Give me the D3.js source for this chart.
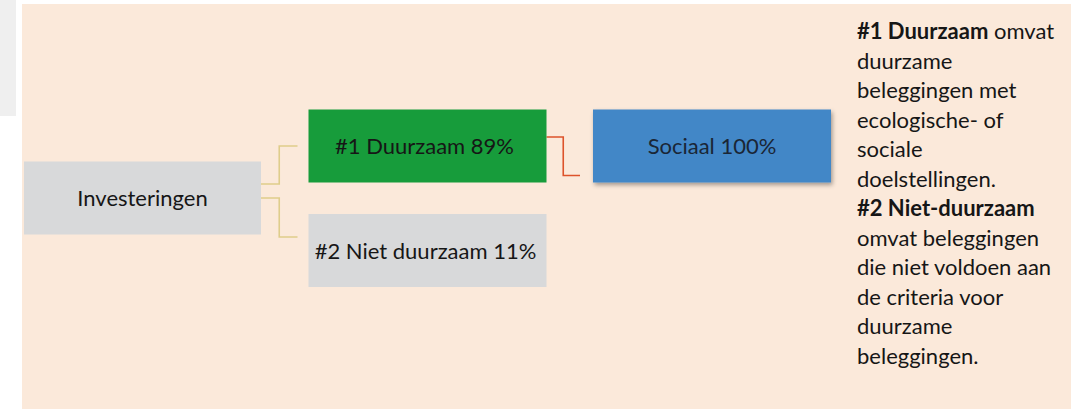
<!DOCTYPE html>
<html>
<head>
<meta charset="utf-8">
<script src="https://cdn.jsdelivr.net/npm/d3@7"></script>
<style>
  html, body { margin: 0; padding: 0; background: #ffffff; }
  svg { display: block; }
</style>
</head>
<body>
<svg id="chart" width="1071" height="409"></svg>
<script>
// ---- data ----
const nodeLabels = ["Investeringen", "#1 Duurzaam", "#2 Niet duurzaam", "Sociaal"];
const nodeShares = [null, 89, 11, 100];
const nodeLevels = [0, 1, 1, 2];
const nodeRows   = [0, -1, 1, -1];
const nodeParents = [null, 0, 0, 1];
const nodeKinds  = ["root", "sustainable", "other", "social"];

const noteLines = [
  [["#1 Duurzaam", true], [" omvat", false]],
  [["duurzame", false]],
  [["beleggingen met", false]],
  [["ecologische- of", false]],
  [["sociale", false]],
  [["doelstellingen.", false]],
  [["#2 Niet-duurzaam", true]],
  [["omvat beleggingen", false]],
  [["die niet voldoen aan", false]],
  [["de criteria voor", false]],
  [["duurzame", false]],
  [["beleggingen.", false]]
];

// ---- styling ----
const fillByKind = { root: "#d8d9da", sustainable: "#179c3b", other: "#d8d9da", social: "#4387c7" };
const FONT = "Lato, 'Open Sans', sans-serif";

const svg = d3.select("#chart");
const W = 1071, H = 409;

// backgrounds
svg.append("rect").attr("x", 0).attr("y", 0).attr("width", 16).attr("height", 116).attr("fill", "#efefef");
svg.append("rect").attr("x", 22).attr("y", 4).attr("width", W - 22).attr("height", H - 4).attr("fill", "#fbe9da");

// shadow filter
const defs = svg.append("defs");
const f = defs.append("filter").attr("id", "shadow").attr("x", "-10%").attr("y", "-20%").attr("width", "130%").attr("height", "150%");
f.append("feDropShadow").attr("dx", 1.5).attr("dy", 2.5).attr("stdDeviation", 2).attr("flood-color", "#000").attr("flood-opacity", 0.35);

// scales
const boxW = 238, boxH = 73;
const x = d3.scaleLinear().domain([0, 2]).range([24, 593]);
const y = d3.scaleLinear().domain([-1, 1]).range([146, 250]);

const nodes = nodeLabels.map((label, i) => ({
  label, share: nodeShares[i], level: nodeLevels[i], row: nodeRows[i],
  parent: nodeParents[i], kind: nodeKinds[i]
}));
nodes.forEach(n => {
  n.x0 = x(n.level);
  n.x1 = n.x0 + boxW - (n.level === 0 ? 1 : 0);
  n.cy = y(n.row) + (n.kind === "other" ? 0.5 : 0);
});

// links (elbow connectors)
const linkColor = { 1: "#dfcd8b", 2: "#dfcd8b", 3: "#dd532b" };
const links = nodes.map((n, i) => ({ n, i })).filter(d => d.n.parent !== null);
links.forEach(d => {
  const p = nodes[d.n.parent];
  let yOut, yIn;
  if (d.n.kind === "sustainable") { yOut = p.cy - 14; yIn = d.n.cy; }
  else if (d.n.kind === "other") { yOut = p.cy; yIn = d.n.cy - 13.5; }
  else { yOut = p.cy - 9; yIn = d.n.cy + 29.5; }
  const xStart = p.x1;
  const xEnd = d.n.x0 - (d.n.kind === "social" ? 13 : 11);
  const xMid = (xStart + xEnd) / 2;
  const path = d3.path();
  path.moveTo(xStart, yOut);
  path.lineTo(xMid, yOut);
  path.lineTo(xMid, yIn);
  path.lineTo(xEnd, yIn);
  d.path = path.toString();
});
svg.append("g").selectAll("path").data(links).join("path")
  .attr("d", d => d.path)
  .attr("fill", "none")
  .attr("stroke", d => linkColor[d.i])
  .attr("stroke-width", 1.6);

// boxes
const g = svg.append("g").selectAll("g").data(nodes).join("g");
g.append("rect")
  .attr("x", d => d.x0)
  .attr("y", d => d.cy - boxH / 2)
  .attr("width", d => d.x1 - d.x0)
  .attr("height", boxH)
  .attr("fill", d => fillByKind[d.kind])
  .attr("filter", d => d.kind === "social" ? "url(#shadow)" : null);
g.append("text")
  .attr("x", d => (d.x0 + d.x1) / 2 + (d.kind === "other" ? -2 : d.kind === "sustainable" ? -3 : 0))
  .attr("y", d => d.cy + 8)
  .attr("text-anchor", "middle")
  .attr("font-family", FONT)
  .attr("font-size", 22)
  .attr("fill", d => d.kind === "social" ? "#1a2636" : "#161616")
  .text(d => d.share === null ? d.label : `${d.label} ${d.share}%`);

// notes
const notes = svg.append("text")
  .attr("font-family", FONT)
  .attr("font-size", 22)
  .attr("fill", "#161616");
noteLines.forEach((line, i) => {
  line.forEach(([txt, bold], j) => {
    const t = notes.append("tspan").attr("font-weight", bold ? 700 : 400).text(txt);
    if (j === 0) t.attr("x", 857).attr("y", 39 + i * 29.5);
  });
});
</script>
</body>
</html>
